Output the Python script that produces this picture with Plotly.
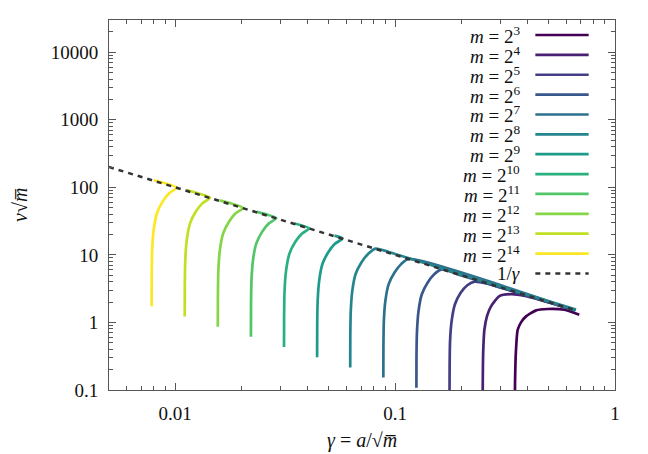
"""Scaled velocity v*sqrt(m) against gamma = a/sqrt(m), one curve per m."""

import plotly.graph_objects as go

# Curve readings (gamma, v*sqrt(m)) for each m = 2^k
g3 = [0.350, 0.351, 0.354, 0.361, 0.375, 0.394, 0.4375, 0.494, 0.5885, 0.688]
v3 = [0.038, 0.12, 0.35, 0.78, 1.02, 1.23, 1.51, 1.58, 1.54, 1.30]

g4 = [0.250, 0.2505, 0.2515, 0.2547, 0.262, 0.273, 0.298, 0.336, 0.39, 0.445, 0.53, 0.66]
v4 = [0.054, 0.15, 0.36, 0.78, 1.25, 1.73, 2.45, 2.62, 2.48, 2.21, 1.87, 1.50]

g5 = [0.1768, 0.1770, 0.1778, 0.1807, 0.1870, 0.1987, 0.2130, 0.2303, 0.26, 0.30, 0.40, 0.66]
v5 = [0.0765, 0.221, 0.53, 1.04, 1.84, 2.74, 3.55, 4.02, 3.78, 3.30, 2.48, 1.50]

g6 = [0.125, 0.1251, 0.1258, 0.1278, 0.1323, 0.1405, 0.1506, 0.1629, 0.20, 0.66]
v6 = [0.108, 0.313, 0.75, 1.47, 2.61, 3.87, 5.16, 6.10, 4.98, 1.51]

g7 = [0.0884, 0.0885, 0.0889, 0.0903, 0.0935, 0.0994, 0.1065, 0.1152, 0.66]
v7 = [0.153, 0.442, 1.06, 2.08, 3.69, 5.48, 7.30, 8.70, 1.51]

g8 = [0.0625, 0.06256, 0.06288, 0.06388, 0.06613, 0.07025, 0.07531, 0.08144, 0.10, 0.20, 0.40, 0.665]
v8 = [0.216, 0.626, 1.50, 2.94, 5.22, 7.74, 10.3, 12.4, 10.3, 5.15, 2.575, 1.55]

g9 = [0.04419, 0.04424, 0.04446, 0.04517, 0.04676, 0.04967, 0.05325, 0.05759, 0.0530]
v9 = [0.306, 0.885, 2.12, 4.16, 7.38, 10.95, 14.6, 17.5, 19.25]

g10 = [0.03125, 0.03128, 0.03144, 0.03194, 0.03306, 0.03513, 0.03766, 0.04072, 0.0349]
v10 = [0.433, 1.25, 3.00, 5.89, 10.4, 15.5, 20.6, 24.7, 29.2]

g11 = [0.02210, 0.02212, 0.02223, 0.02258, 0.02338, 0.02484, 0.02663, 0.02879, 0.0235]
v11 = [0.612, 1.77, 4.25, 8.33, 14.8, 21.9, 29.2, 35.0, 43.4]

g12 = [0.015625, 0.015641, 0.015719, 0.015969, 0.016531, 0.017563, 0.018828, 0.020359, 0.0159]
v12 = [0.865, 2.50, 6.00, 11.8, 20.9, 31.0, 41.3, 49.5, 64.2]

g13 = [0.011049, 0.01106, 0.011115, 0.011292, 0.011689, 0.012419, 0.013313, 0.014396, 0.01122]
v13 = [1.224, 3.54, 8.49, 16.7, 29.5, 43.8, 58.4, 70.0, 90.9]

g14 = [0.0078125, 0.0078203, 0.0078594, 0.0079844, 0.0082656, 0.0087813, 0.0094141, 0.010180, 0.0080]
v14 = [1.731, 5.01, 12.0, 23.6, 41.7, 62.0, 82.6, 98.9, 127.5]

# Reference line 1/gamma
g_inv = [0.005, 0.66]
v_inv = [200, 1.515]

exponents = [3, 4, 5, 6, 7, 8, 9, 10, 11, 12, 13, 14]
curves = [(g3, v3), (g4, v4), (g5, v5), (g6, v6), (g7, v7), (g8, v8),
          (g9, v9), (g10, v10), (g11, v11), (g12, v12), (g13, v13), (g14, v14)]

# viridis, 12 samples
colors = ['#440154', '#482173', '#433e85', '#38588c', '#2d708e', '#25858e',
          '#1e9b8a', '#2ab07f', '#52c569', '#86d549', '#c2df23', '#fde725']

x_tickvals = [0.01, 0.1, 1]
x_ticktext = ['0.01', '0.1', '1']
y_tickvals = [0.1, 1, 10, 100, 1000, 10000]
y_ticktext = ['0.1', '1', '10', '100', '1000', '10000']

FONT = 'Liberation Serif, DejaVu Serif, serif'
DASH_COLOR = '#333333'

fig = go.Figure()

for k, (gx, vy), col in zip(exponents, curves, colors):
    fig.add_trace(go.Scatter(
        x=gx, y=vy, mode='lines', name=f'm = 2^{k}',
        line=dict(color=col, width=2.7, shape='spline', smoothing=0.6),
        showlegend=False,
    ))

fig.add_trace(go.Scatter(
    x=g_inv, y=v_inv, mode='lines', name='1/gamma',
    line=dict(color=DASH_COLOR, width=2.5, dash='5px,5px'),
    showlegend=False,
))

# Hand-built legend: text right-aligned, line sample to its right
labels = [f'<i>m</i> = 2<sup>{k}</sup>' for k in exponents] + ['1/<i>γ</i>']
styles = [dict(color=c, width=2.7) for c in colors] + [dict(color=DASH_COLOR, width=2.5, dash='5px,5px')]

plot_l, plot_r, plot_t, plot_b = 109, 614.6, 20, 390
W, H = plot_r - plot_l, plot_b - plot_t

shapes = []
annotations = []
for i, (lab, st) in enumerate(zip(labels, styles)):
    py = 35 + 19.87 * i
    yp = (plot_b - py) / H
    annotations.append(dict(
        x=(521.7 - plot_l) / W, y=yp, xref='paper', yref='paper',
        text=lab, showarrow=False, xanchor='right', yanchor='middle',
        font=dict(family=FONT, size=19, color='#111111'),
    ))
    shapes.append(dict(
        type='line', xref='paper', yref='paper',
        x0=(535 - plot_l) / W, x1=(588.3 - plot_l) / W, y0=yp, y1=yp,
        line=st,
    ))

# axis titles
annotations.append(dict(
    x=(362 - plot_l) / W, y=(plot_b - 440) / H, xref='paper', yref='paper',
    yanchor='middle', xanchor='center',
    text='<i>γ</i> = <i>a</i>/√<i>m̅</i>', showarrow=False,
    font=dict(family=FONT, size=20, color='#111111'),
))
annotations.append(dict(
    x=(20 - plot_l) / W, y=(plot_b - 205) / H, xref='paper', yref='paper',
    xanchor='center', yanchor='middle',
    text='<i>v</i>√<i>m̅</i>', showarrow=False, textangle=-90,
    font=dict(family=FONT, size=20, color='#111111'),
))

axis_common = dict(
    type='log',
    showline=True, linecolor='#555555', linewidth=1,
    mirror='ticks', ticks='inside', ticklen=7, tickcolor='#555555',
    showgrid=False, zeroline=False,
    tickfont=dict(family=FONT, size=19, color='#111111'),
    minor=dict(ticks='inside', ticklen=4, tickcolor='#555555', showgrid=False, dtick='D1'),
)

fig.update_layout(
    width=648, height=454,
    margin=dict(l=109, r=33.4, t=20, b=64),
    paper_bgcolor='white', plot_bgcolor='white',
    xaxis=dict(axis_common, range=[-2.301, 0], tickvals=x_tickvals, ticktext=x_ticktext,
               ticklabelstandoff=6),
    yaxis=dict(axis_common, range=[-1, 4.477], tickvals=y_tickvals, ticktext=y_ticktext,
               ticklabelstandoff=6),
    shapes=shapes,
    annotations=annotations,
    showlegend=False,
)

fig.write_html("out.html", config={'displayModeBar': False},
               post_script="document.body.style.margin='0px';")
